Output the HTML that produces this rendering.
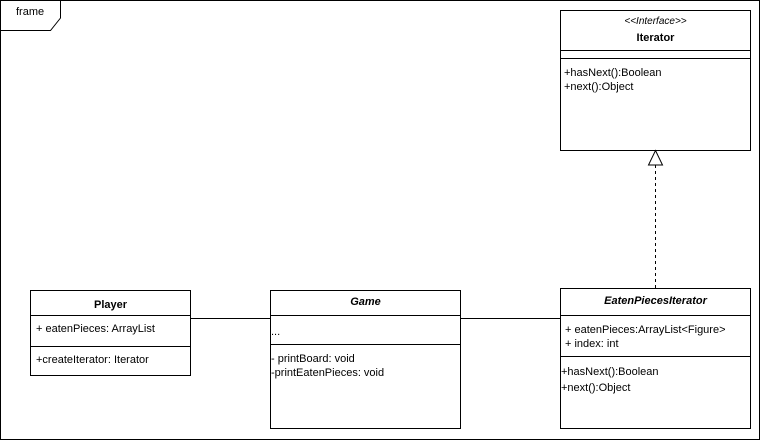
<!DOCTYPE html>
<html><head><meta charset="utf-8"><style>
html,body{margin:0;padding:0;background:#fff;}
svg{display:block;font-family:"Liberation Sans",Arial,sans-serif;font-size:11px;}
</style></head><body>
<svg width="761" height="441" viewBox="0 0 761 441" xmlns="http://www.w3.org/2000/svg">
<g fill="none" stroke="#000" stroke-width="1" shape-rendering="crispEdges">
<rect x="0.5" y="0.5" width="759" height="439"/>
</g>
<path d="M0.5 30.5 H50.5 L60.5 18 V0.5" fill="none" stroke="#000"/>
<text x="16" y="15" font-size="11">frame</text>

<g fill="#fff" stroke="#000" shape-rendering="crispEdges">
<rect x="560.5" y="10.5" width="190" height="140"/>
<line x1="560.5" y1="50.5" x2="750.5" y2="50.5"/>
<line x1="560.5" y1="58.5" x2="750.5" y2="58.5"/>
<rect x="560.5" y="288.5" width="190" height="140"/>
<line x1="560.5" y1="315.5" x2="750.5" y2="315.5"/>
<line x1="560.5" y1="356.5" x2="750.5" y2="356.5"/>
<rect x="30.5" y="290.5" width="160" height="85"/>
<line x1="30.5" y1="315.5" x2="190.5" y2="315.5"/>
<line x1="30.5" y1="346.5" x2="190.5" y2="346.5"/>
<rect x="270.5" y="290.5" width="190" height="138"/>
<line x1="270.5" y1="315.5" x2="460.5" y2="315.5"/>
<line x1="270.5" y1="344.5" x2="460.5" y2="344.5"/>
<line x1="190.5" y1="318.5" x2="270.5" y2="318.5"/>
<line x1="460.5" y1="318.5" x2="560.5" y2="318.5"/>
<line x1="655.5" y1="165" x2="655.5" y2="288" stroke-dasharray="3,3"/>
</g>
<path d="M655.5 150.5 L662.5 165 L648.5 165 Z" fill="#fff" stroke="#000"/>

<g fill="#000">
<text x="655.5" y="24" text-anchor="middle" font-style="italic" font-size="10">&lt;&lt;Interface&gt;&gt;</text>
<text x="655.5" y="41" text-anchor="middle" font-weight="bold">Iterator</text>
<text x="564" y="76">+hasNext():Boolean</text>
<text x="564" y="90">+next():Object</text>

<text x="655.5" y="304" text-anchor="middle" font-weight="bold" font-style="italic">EatenPiecesIterator</text>
<text x="565" y="333">+ eatenPieces:ArrayList&lt;Figure&gt;</text>
<text x="565" y="347">+ index: int</text>
<text x="561" y="375">+hasNext():Boolean</text>
<text x="561" y="391">+next():Object</text>

<text x="110.5" y="308" text-anchor="middle" font-weight="bold">Player</text>
<text x="36" y="332">+ eatenPieces: ArrayList</text>
<text x="36" y="363">+createIterator: Iterator</text>

<text x="365.5" y="305" text-anchor="middle" font-weight="bold" font-style="italic">Game</text>
<text x="271" y="335">...</text>
<text x="271" y="362">- printBoard: void</text>
<text x="271" y="376">-printEatenPieces: void</text>
</g>
</svg>
</body></html>
